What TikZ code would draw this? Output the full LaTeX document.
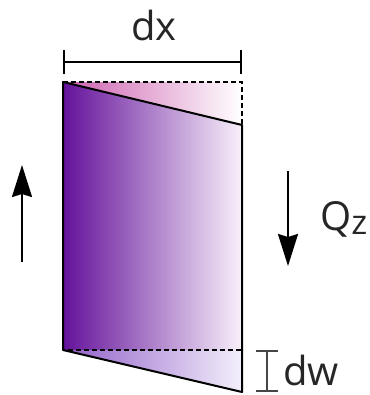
\documentclass[tikz,border=0pt]{standalone}
\usepackage{fontspec}
\setmainfont{Open Sans}
\usetikzlibrary{arrows.meta}
\definecolor{deeppurple}{RGB}{100,18,155}
\definecolor{midpurple}{RGB}{155,72,178}
\definecolor{palepurple}{RGB}{248,240,250}
\definecolor{pinkA}{RGB}{205,95,175}
\definecolor{lightpurple}{RGB}{145,95,200}
\definecolor{paleB}{RGB}{243,239,251}
\definecolor{inkgray}{RGB}{70,70,70}
\begin{document}
\begin{tikzpicture}[x=1pt,y=-1pt,
  edge/.style={line width=2pt, line join=round},
  dashedge/.style={line width=1.6pt, dash pattern=on 5pt off 3pt},
  lbl/.style={inner sep=0pt, anchor=base west, font=\fontsize{40}{40}\selectfont, text=black!85},
  bigarrow/.style={line width=2.2pt, -{Stealth[length=32pt,width=20pt,inset=3pt]}}]
\useasboundingbox (0,0) rectangle (369,395);
\coordinate (TL) at (63,82);
\coordinate (TR) at (242,82);
\coordinate (SR) at (242,125);
\coordinate (BR) at (242,392);
\coordinate (BL) at (63,350);
\coordinate (DR) at (242,350);
\shade[left color=pinkA, right color=white] (TL) -- (TR) -- (SR) -- cycle;
\shade[left color=deeppurple, middle color=midpurple, right color=palepurple] (TL) -- (SR) -- (DR) -- (BL) -- cycle;
\shade[left color=lightpurple, right color=paleB] (BL) -- (DR) -- (BR) -- cycle;
\draw[dashedge] (TL) -- (TR) -- (DR) -- (BL);
\draw[edge] (SR) -- (TL) -- (BL) -- (BR) -- cycle;
% dx dimension
\coordinate (dxL) at (63,62);
\coordinate (dxR) at (242,62);
\draw[edge, {Bar[width=24pt]}-{Bar[width=24pt]}] (dxL) -- (dxR);
% dw dimension
\coordinate (dwT) at (267,350);
\coordinate (dwB) at (267,392);
\draw[line width=1.6pt, inkgray, {Bar[width=22pt]}-{Bar[width=22pt]}] (dwT) -- (dwB);
% arrows
\coordinate (upA) at (22,262);
\coordinate (upB) at (22,165);
\draw[bigarrow] (upA) -- (upB);
\coordinate (dnA) at (288,171);
\coordinate (dnB) at (288,266);
\draw[bigarrow] (dnA) -- (dnB);
% labels
\node[lbl, anchor=base] (dx) at (154,41) {dx};
\node[lbl] (dw) at (283,385) {dw};
\node[lbl] (Qz) at (320,230) {Q\raisebox{-4pt}{\fontsize{34}{34}\selectfont z}};
\end{tikzpicture}
\end{document}
